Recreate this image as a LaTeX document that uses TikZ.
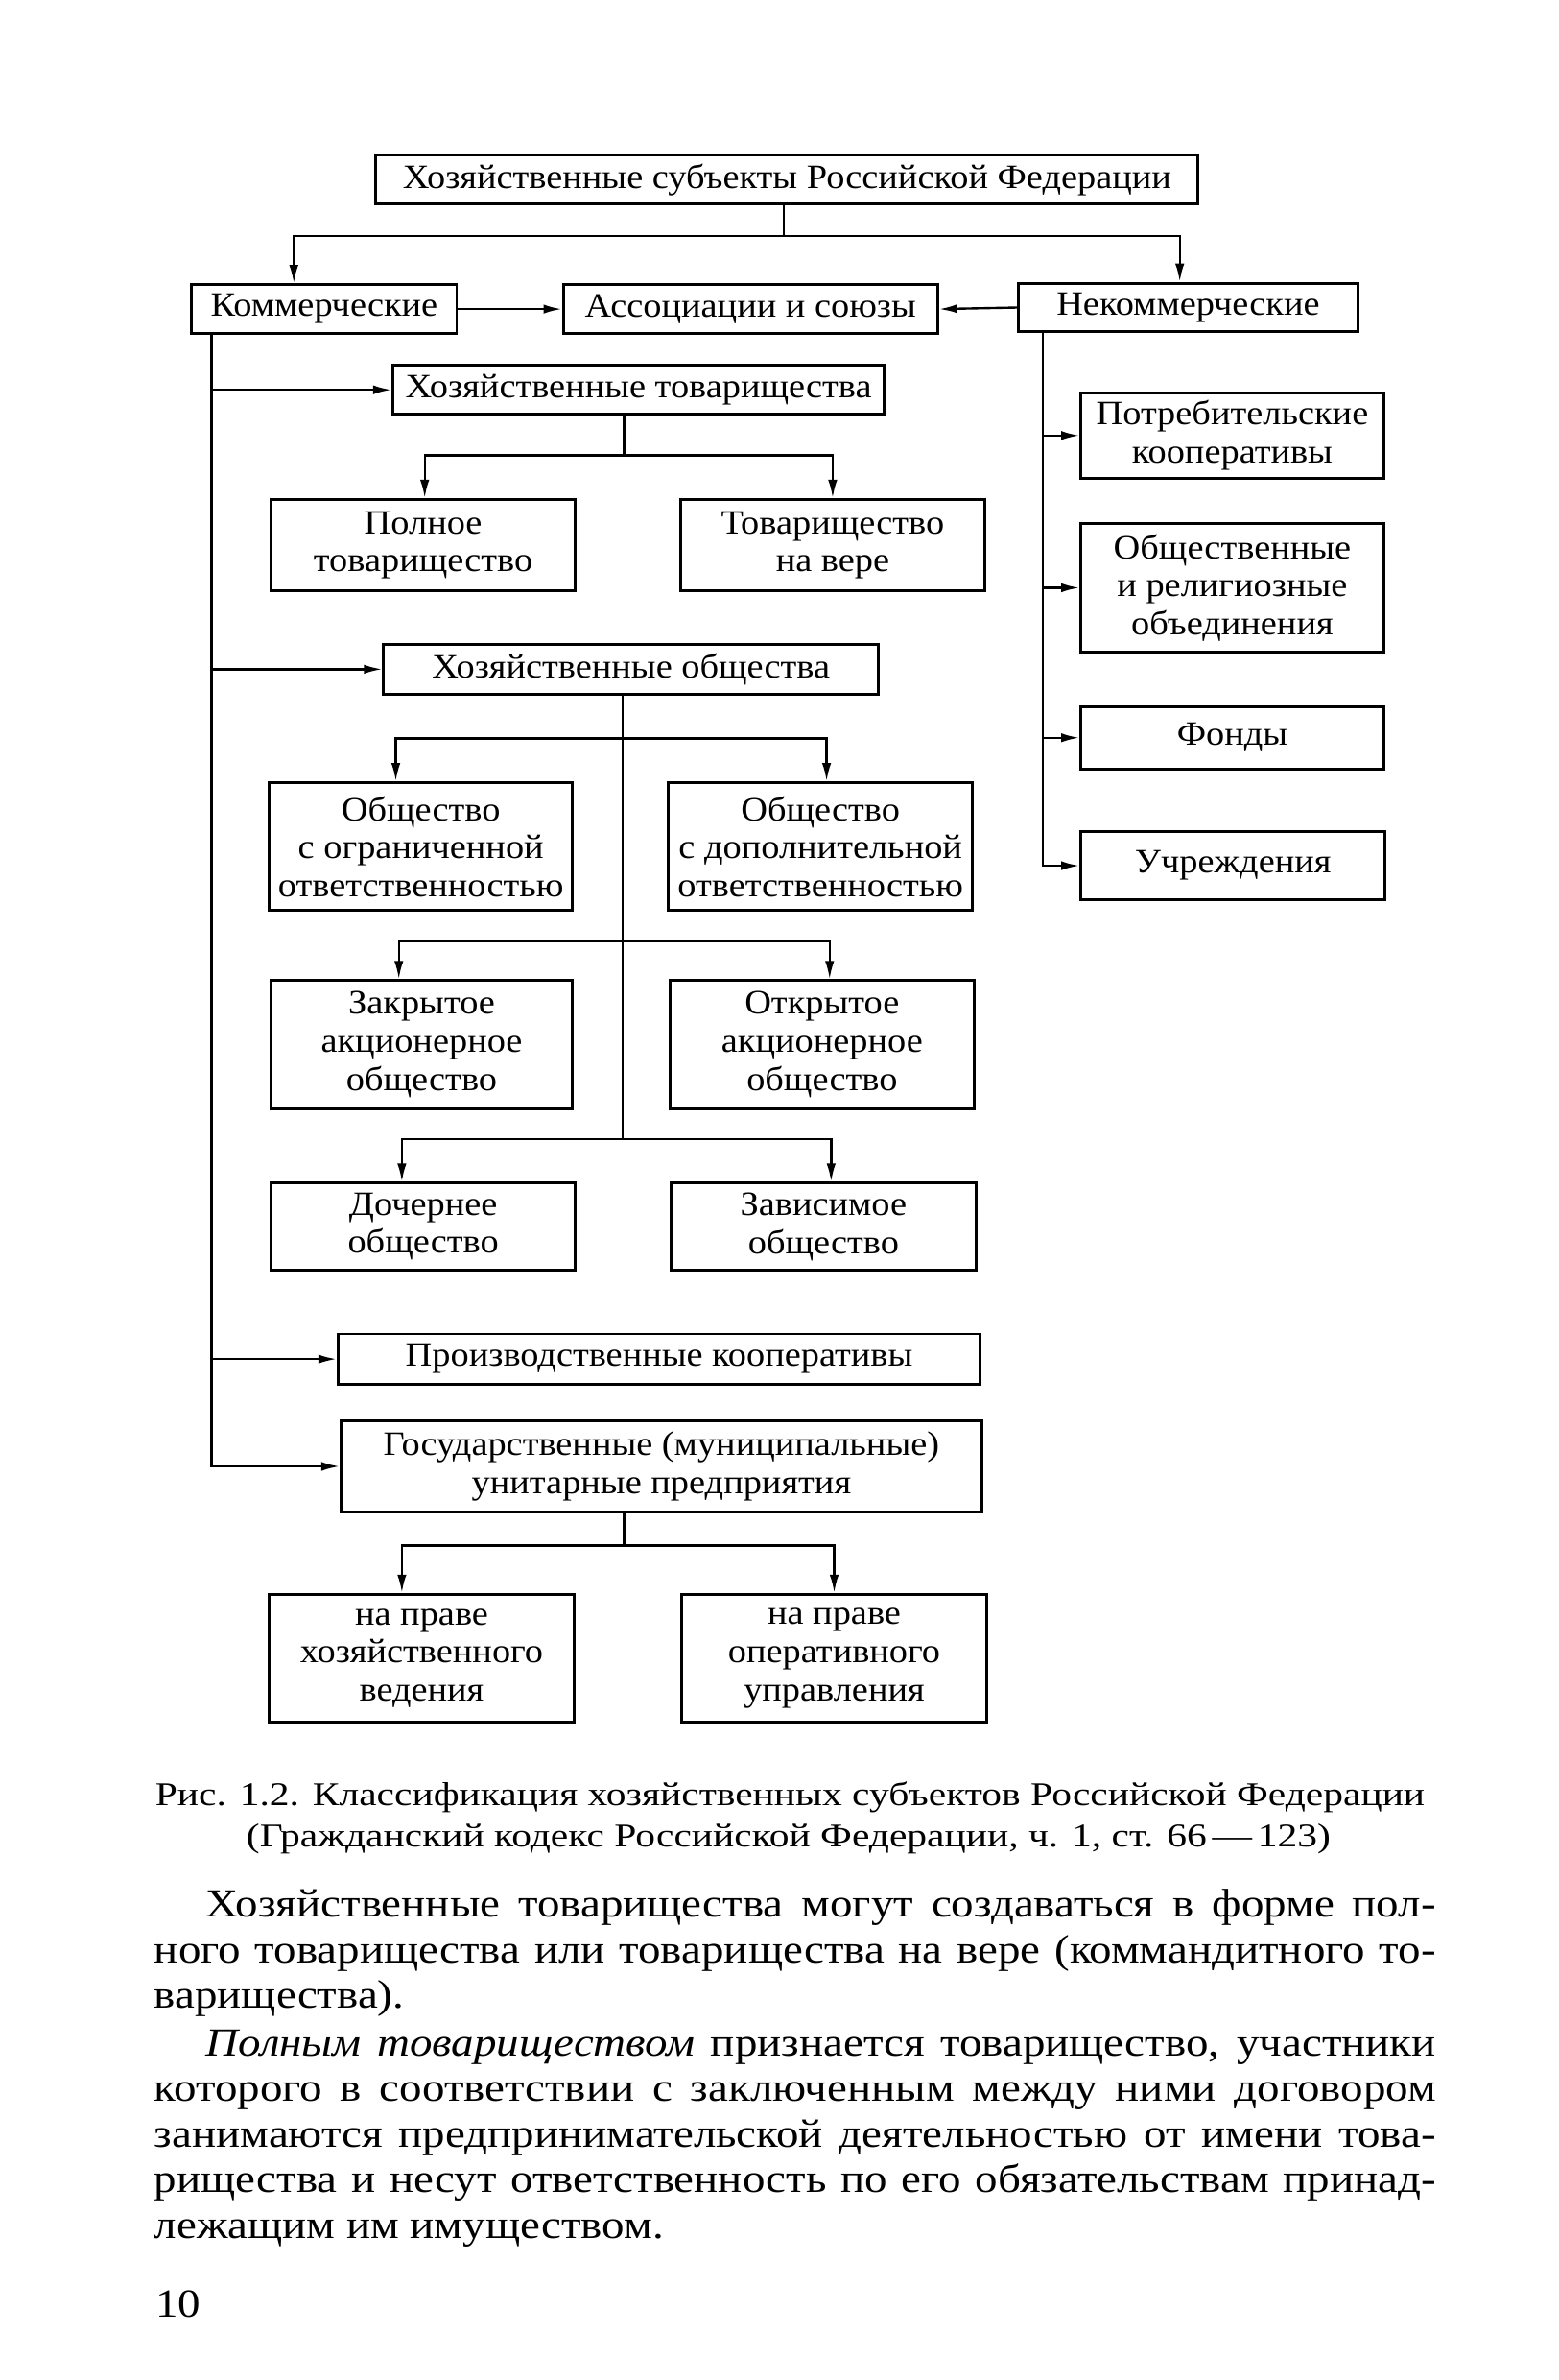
\documentclass[tikz,border=0pt]{standalone}
\usepackage{fontspec}
\setmainfont{Liberation Serif}
\newfontfamily\boxfont{Liberation Serif}[FakeStretch=1.08]
\newfontfamily\capfont{Liberation Serif}[FakeStretch=1.2]
\newfontfamily\parfont{Liberation Serif}[FakeStretch=1.13]
\usetikzlibrary{arrows.meta}
\begin{document}
\begin{tikzpicture}[x=0.5pt,y=-0.5pt,
  box/.style={draw, line width=0.9pt, rectangle, inner sep=0pt, align=center,
    font=\boxfont\fontsize{11.2}{12.5}\selectfont},
  sz/.style 2 args={minimum width=#1*0.5pt, minimum height=#2*0.5pt},
  conn/.style={line width=0.75pt},
  arr/.style={conn, -{Latex[length=6pt,width=3pt]}},
  capline/.style={anchor=base, inner sep=0pt, font=\capfont\fontsize{10.9}{13}\selectfont},
  parline/.style={anchor=base west, inner sep=0pt, font=\parfont\fontsize{13.1}{15}\selectfont}]
\path[use as bounding box, fill=white] (0,0) rectangle (1024,1563);

% boxes
\node[box, sz={540}{32}] (top) at (517,118) {Хозяйственные субъекты Российской Федерации};
\node[box, sz={174}{32}] (kom) at (213,203) {Коммерческие};
\node[box, sz={246}{32}] (assoc) at (493,203) {Ассоциации и союзы};
\node[box, sz={223}{32}] (nekom) at (780.5,202) {Некоммерческие};
\node[box, sz={323}{32}] (htov) at (419.5,256) {Хозяйственные товарищества};
\node[box, sz={200}{60}] (poln) at (278,358) {Полное\\товарищество};
\node[box, sz={200}{60}] (vere) at (547,358) {Товарищество\\на вере};
\node[box, sz={199}{56}] (potr) at (809.5,286) {Потребительские\\кооперативы};
\node[box, sz={199}{84}] (obsch) at (809.5,386) {Общественные\\и религиозные\\объединения};
\node[box, sz={199}{41}] (fond) at (809.5,484.5) {Фонды};
\node[box, sz={200}{45}] (uchr) at (810,568.5) {Учреждения};
\node[box, sz={325}{33}] (hob) at (414.5,439.5) {Хозяйственные общества};
\node[box, sz={199}{84}] (ooo) at (276.5,556) {Общество\\с ограниченной\\ответственностью};
\node[box, sz={200}{84}] (odo) at (539,556) {Общество\\с дополнительной\\ответственностью};
\node[box, sz={198}{84}] (zao) at (277,686) {Закрытое\\акционерное\\общество};
\node[box, sz={200}{84}] (oao) at (540,686) {Открытое\\акционерное\\общество};
\node[box, sz={200}{57}] (doch) at (278,805.5) {Дочернее\\общество};
\node[box, sz={200}{57}] (zav) at (541,805.5) {Зависимое\\общество};
\node[box, sz={422}{33}] (prk) at (433,892.5) {Производственные кооперативы};
\node[box, sz={421}{60}] (gup) at (434.5,963) {Государственные (муниципальные)\\унитарные предприятия};
\node[box, sz={200}{84}] (pxv) at (277,1089) {на праве\\хозяйственного\\ведения};
\node[box, sz={200}{84}] (pou) at (548,1089) {на праве\\оперативного\\управления};

% junction coordinates
\coordinate (j1) at (515,155);
\coordinate (xK) at (193,0);
\coordinate (xN) at (775,0);
\coordinate (lt) at (139,0);
\coordinate (rt) at (685,0);
\coordinate (j2) at (410,299);
\coordinate (xHT) at (279,0);
\coordinate (jA) at (409,485);
\coordinate (jB) at (409,618);
\coordinate (jC) at (409,748);
\coordinate (xL1) at (260,0);
\coordinate (xR1) at (543,0);
\coordinate (xL2) at (262,0);
\coordinate (xR2) at (545,0);
\coordinate (xL3) at (264,0);
\coordinate (xR3) at (546,0);
\coordinate (j3) at (410,1015);
\coordinate (xL4) at (264,0);

% connectors
\draw[conn] (top.south -| j1) -- (j1);
\draw[arr] (j1) -| (kom.north -| xK);
\draw[arr] (j1) -| (nekom.north -| xN);
\draw[arr] (kom.east) -- (assoc.west);
\draw[arr] (nekom.west) -- (assoc.east);

\draw[arr] (kom.south -| lt) |- (gup.west);
\draw[arr] (htov.west -| lt) -- (htov.west);
\draw[arr] (hob.west -| lt) -- (hob.west);
\draw[arr] (prk.west -| lt) -- (prk.west);

\draw[conn] (htov.south -| j2) -- (j2);
\draw[arr] (j2) -| (poln.north -| xHT);
\draw[arr] (j2) -| (vere.north);

\draw[conn] (hob.south -| jA) -- (jC);
\draw[arr] (jA) -| (ooo.north -| xL1);
\draw[arr] (jA) -| (odo.north -| xR1);
\draw[arr] (jB) -| (zao.north -| xL2);
\draw[arr] (jB) -| (oao.north -| xR2);
\draw[arr] (jC) -| (doch.north -| xL3);
\draw[arr] (jC) -| (zav.north -| xR3);

\draw[conn] (gup.south -| j3) -- (j3);
\draw[arr] (j3) -| (pxv.north -| xL4);
\draw[arr] (j3) -| (pou.north);

\draw[arr] (nekom.south -| rt) |- (uchr.west);
\draw[arr] (potr.west -| rt) -- (potr.west);
\draw[arr] (obsch.west -| rt) -- (obsch.west);
\draw[arr] (fond.west -| rt) -- (fond.west);

% caption
\node[capline] (cap1) at (519,1186) {Рис. 1.2. Классификация хозяйственных субъектов Российской Федерации};
\node[capline] (cap2) at (518,1213) {(Гражданский кодекс Российской Федерации, ч. 1, ст. 66\,—\,123)};

% paragraph text
\node[parline] (p1) at (135,1259) {\makebox[404pt][s]{Хозяйственные товарищества могут создаваться в форме пол-}};
\node[parline] (p2) at (101,1289) {\makebox[421pt][s]{ного товарищества или товарищества на вере (коммандитного то-}};
\node[parline] (p3) at (101,1319) {варищества).};
\node[parline] (p4) at (135,1350) {\makebox[404pt][s]{\textit{Полным товариществом} признается товарищество, участники}};
\node[parline] (p5) at (101,1380) {\makebox[421pt][s]{которого в соответствии с заключенным между ними договором}};
\node[parline] (p6) at (101,1410) {\makebox[421pt][s]{занимаются предпринимательской деятельностью от имени това-}};
\node[parline] (p7) at (101,1440) {\makebox[421pt][s]{рищества и несут ответственность по его обязательствам принад-}};
\node[parline] (p8) at (101,1470) {лежащим им имуществом.};
\node[parline] (pg) at (102,1522) {10};
\end{tikzpicture}
\end{document}
